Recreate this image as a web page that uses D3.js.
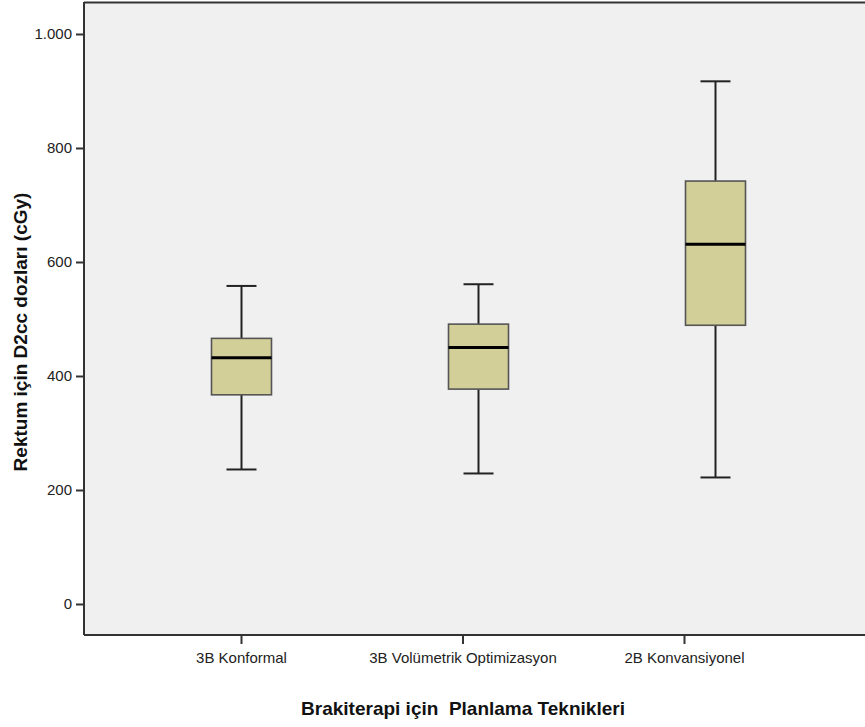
<!DOCTYPE html>
<html>
<head>
<meta charset="utf-8">
<script src="https://cdn.jsdelivr.net/npm/d3@7"></script>
<style>
  html, body { margin: 0; padding: 0; background: #ffffff; }
  svg { display: block; font-family: "Liberation Sans", Arial, sans-serif; }
</style>
</head>
<body>
<svg id="chart" width="865" height="727"></svg>
<script>
// ---- data ----
const categories = ["3B Konformal", "3B Volümetrik Optimizasyon", "2B Konvansiyonel"];
const whiskerLow = [236, 229, 222];
const q1 = [367, 377, 489];
const median = [432, 450, 631];
const q3 = [466, 491, 742];
const whiskerHigh = [558, 561, 917];
const yTicks = [0, 200, 400, 600, 800, 1000];
const xTitle = "Brakiterapi için  Planlama Teknikleri";
const yTitle = "Rektum için D2cc dozları (cGy)";

const svg = d3.select("#chart");
const W = 865, H = 727;
const plot = { left: 84, top: 2, right: 865, bottom: 635 };

// scales
const y = d3.scaleLinear().domain([0, 1000]).range([604, 34]);
const xTick = d3.scalePoint().domain(categories).range([241, 684]);
const xBox = d3.scalePoint().domain(categories).range([241, 715]);

// background panel
svg.append("rect")
  .attr("x", plot.left).attr("y", plot.top)
  .attr("width", plot.right - plot.left).attr("height", plot.bottom - plot.top)
  .attr("fill", "#f0f0f0");

// top border
svg.append("line")
  .attr("x1", plot.left).attr("x2", plot.right)
  .attr("y1", plot.top + 0.5).attr("y2", plot.top + 0.5)
  .attr("stroke", "#333").attr("stroke-width", 2);

// boxes
const boxW = 60, capW = 30;
const data = categories.map((c, i) => ({
  c, lo: whiskerLow[i], q1: q1[i], med: median[i], q3: q3[i], hi: whiskerHigh[i]
}));
const g = svg.append("g");
data.forEach(d => {
  const cx = Math.round(xBox(d.c)) + 0.5;
  // whiskers
  g.append("line").attr("x1", cx).attr("x2", cx)
    .attr("y1", y(d.hi)).attr("y2", y(d.q3))
    .attr("stroke", "#222").attr("stroke-width", 2);
  g.append("line").attr("x1", cx).attr("x2", cx)
    .attr("y1", y(d.q1)).attr("y2", y(d.lo))
    .attr("stroke", "#222").attr("stroke-width", 2);
  g.append("line").attr("x1", cx - capW / 2).attr("x2", cx + capW / 2)
    .attr("y1", y(d.hi)).attr("y2", y(d.hi))
    .attr("stroke", "#222").attr("stroke-width", 2);
  g.append("line").attr("x1", cx - capW / 2).attr("x2", cx + capW / 2)
    .attr("y1", y(d.lo)).attr("y2", y(d.lo))
    .attr("stroke", "#222").attr("stroke-width", 2);
  // box
  g.append("rect")
    .attr("x", cx - boxW / 2).attr("y", y(d.q3))
    .attr("width", boxW).attr("height", y(d.q1) - y(d.q3))
    .attr("fill", "#d3cf98").attr("stroke", "#555").attr("stroke-width", 1.6);
  // median
  g.append("line").attr("x1", cx - boxW / 2).attr("x2", cx + boxW / 2)
    .attr("y1", y(d.med)).attr("y2", y(d.med))
    .attr("stroke", "#000").attr("stroke-width", 3);
});

// y axis
const yAxis = d3.axisLeft(y).tickValues(yTicks).tickSize(8).tickPadding(4)
  .tickFormat(d => d3.format(",")(d).replace(/,/g, "."));
const ya = svg.append("g").attr("transform", `translate(${plot.left},0)`).call(yAxis);
ya.select(".domain").attr("d", `M0,${plot.top}V${plot.bottom}`).attr("stroke", "#333").attr("stroke-width", 2);
ya.selectAll(".tick line").attr("stroke", "#333").attr("stroke-width", 2);
ya.selectAll(".tick text").attr("font-size", 15).attr("fill", "#222")
  .attr("font-family", "'Liberation Sans', Arial, sans-serif");

// x axis
const xAxis = d3.axisBottom(xTick).tickSize(9).tickPadding(8);
const xa = svg.append("g").attr("transform", `translate(0,${plot.bottom})`).call(xAxis);
xa.select(".domain").attr("d", `M${plot.left},0H${plot.right}`).attr("stroke", "#333").attr("stroke-width", 2);
xa.selectAll(".tick line").attr("stroke", "#333").attr("stroke-width", 2);
xa.selectAll(".tick text").attr("font-size", 15).attr("fill", "#222")
  .attr("font-family", "'Liberation Sans', Arial, sans-serif");

// titles
svg.append("text")
  .attr("x", 463).attr("y", 715)
  .attr("text-anchor", "middle")
  .attr("font-size", 19).attr("font-weight", "bold").attr("fill", "#111")
  .style("white-space", "pre")
  .text(xTitle);

svg.append("text")
  .attr("transform", `translate(27,${332}) rotate(-90)`)
  .attr("text-anchor", "middle")
  .attr("font-size", 19).attr("font-weight", "bold").attr("fill", "#111")
  .text(yTitle);
</script>
</body>
</html>
